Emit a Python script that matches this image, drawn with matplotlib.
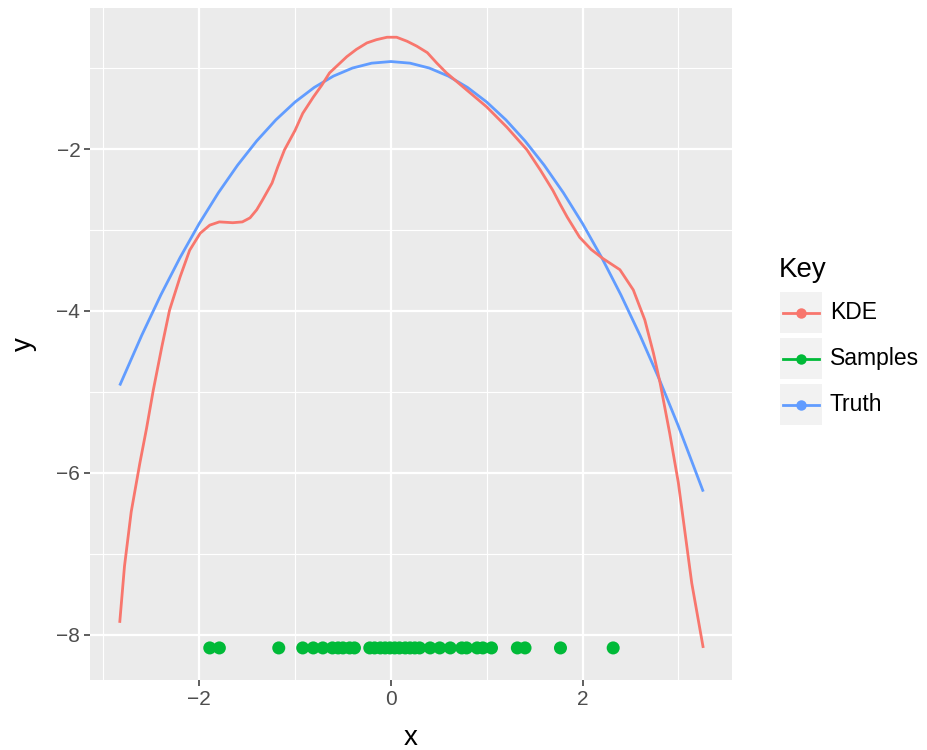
import numpy as np
import matplotlib.pyplot as plt
from matplotlib.lines import Line2D
from matplotlib.patches import Rectangle

plt.rcParams['font.family'] = ['Liberation Sans', 'DejaVu Sans']

# values
kde_x = [-2.83, -2.78, -2.71, -2.62, -2.55, -2.48, -2.39, -2.31, -2.20, -2.10, -1.99,
         -1.89, -1.79, -1.65, -1.55, -1.47, -1.40, -1.34, -1.24, -1.18, -1.11, -1.00,
         -0.92, -0.81, -0.72, -0.64, -0.55, -0.46, -0.36, -0.25, -0.15, -0.04, 0.06,
         0.17, 0.27, 0.38, 0.48, 0.58, 0.69, 0.79, 1.00, 1.21, 1.42, 1.56, 1.69, 1.77,
         1.84, 1.97, 2.09, 2.21, 2.39, 2.53, 2.65, 2.74, 2.81, 2.91, 3.00, 3.07, 3.14,
         3.26]
kde_y = [-7.85, -7.15, -6.48, -5.88, -5.45, -4.98, -4.44, -3.99, -3.58, -3.25, -3.04,
         -2.94, -2.90, -2.91, -2.90, -2.85, -2.75, -2.63, -2.42, -2.22, -2.01, -1.77,
         -1.56, -1.36, -1.21, -1.06, -0.96, -0.86, -0.77, -0.69, -0.65, -0.62, -0.62,
         -0.67, -0.73, -0.81, -0.94, -1.06, -1.17, -1.27, -1.48, -1.73, -2.01, -2.26,
         -2.51, -2.69, -2.84, -3.09, -3.24, -3.35, -3.49, -3.74, -4.11, -4.52, -4.89,
         -5.51, -6.12, -6.74, -7.36, -8.16]

truth_x = [-2.83, -2.6, -2.4, -2.2, -2.0, -1.8, -1.6, -1.4, -1.2, -1.0, -0.8, -0.6,
           -0.4, -0.2, 0.0, 0.2, 0.4, 0.6, 0.8, 1.0, 1.2, 1.4, 1.6, 1.8, 2.0, 2.2,
           2.4, 2.6, 2.8, 3.0, 3.26]
truth_y = [-4.92, -4.30, -3.80, -3.34, -2.92, -2.54, -2.20, -1.90, -1.64, -1.42, -1.24,
           -1.10, -1.00, -0.94, -0.92, -0.94, -1.00, -1.10, -1.24, -1.42, -1.64, -1.90,
           -2.20, -2.54, -2.92, -3.34, -3.80, -4.30, -4.84, -5.42, -6.23]

samples_x = [-1.89, -1.79, -1.17, -0.92, -0.81, -0.71, -0.61, -0.55, -0.50, -0.43, -0.38,
             -0.22, -0.17, -0.11, -0.06, -0.01, 0.04, 0.09, 0.15, 0.20, 0.25, 0.30,
             0.41, 0.51, 0.62, 0.74, 0.79, 0.90, 0.96, 1.05, 1.32, 1.40, 1.77, 2.32]
samples_y = -8.16

keys = ['KDE', 'Samples', 'Truth']
colors = ['#F8766D', '#00BA38', '#619CFF']

fig = plt.figure(figsize=(9.27, 7.5), dpi=100)
ax = fig.add_axes([90/927, 1 - 680/750, (732-90)/927, (680-8)/750])
ax.set_facecolor('#EBEBEB')

ax.set_xlim(-3.14, 3.56)
ax.set_ylim(-8.556, -0.259)
ax.set_xticks([-2, 0, 2])
ax.set_xticks([-3, -1, 1, 3], minor=True)
ax.set_yticks([-8, -6, -4, -2])
ax.set_yticks([-7, -5, -3, -1], minor=True)
ax.set_xticklabels(['\u22122', '0', '2'])
ax.set_yticklabels(['\u22128', '\u22126', '\u22124', '\u22122'])
ax.grid(which='major', color='white', linewidth=1.6)
ax.grid(which='minor', color='white', linewidth=0.8)
ax.set_axisbelow(True)
for s in ax.spines.values():
    s.set_visible(False)
ax.tick_params(which='major', length=4, width=1.1, color='#333333',
               labelsize=15, labelcolor='#4D4D4D', pad=3)
ax.tick_params(which='minor', length=0)

ax.plot(truth_x, truth_y, color=colors[2], lw=2.0, solid_capstyle='butt',
        solid_joinstyle='round', zorder=3)
ax.plot(kde_x, kde_y, color=colors[0], lw=2.0, solid_capstyle='butt',
        solid_joinstyle='round', zorder=3)
ax.scatter(samples_x, [samples_y] * len(samples_x), s=88, color=colors[1],
           edgecolors='none', zorder=4)

ax.set_xlabel('x', fontsize=20, va='center')
ax.xaxis.set_label_coords(0.5, -58/672)
ax.set_ylabel('y', fontsize=20, va='center', ha='center')
ax.yaxis.set_label_coords(-66/642, 0.5)

# legend drawn by hand to get ggplot style key boxes
fig.text(779/927, 1 - 270/750, 'Key', fontsize=20, va='center', ha='left')
tops = [292, 338, 384]
for k, c, t in zip(keys, colors, tops):
    fig.patches.append(Rectangle((780/927, 1 - (t + 41)/750), 42/927, 41/750,
                                 transform=fig.transFigure, facecolor='#F2F2F2',
                                 edgecolor='none'))
    yc = 1 - (t + 20.5)/750
    fig.lines.append(Line2D([783/927, 819/927], [yc, yc], transform=fig.transFigure,
                            color=c, lw=2.0))
    fig.lines.append(Line2D([801/927], [yc], transform=fig.transFigure, color=c,
                            marker='o', markersize=7.5, markeredgewidth=0))
    fig.text(830/927, yc, k, fontsize=16.5, va='center', ha='left')

fig.savefig('out.png', dpi=100)
